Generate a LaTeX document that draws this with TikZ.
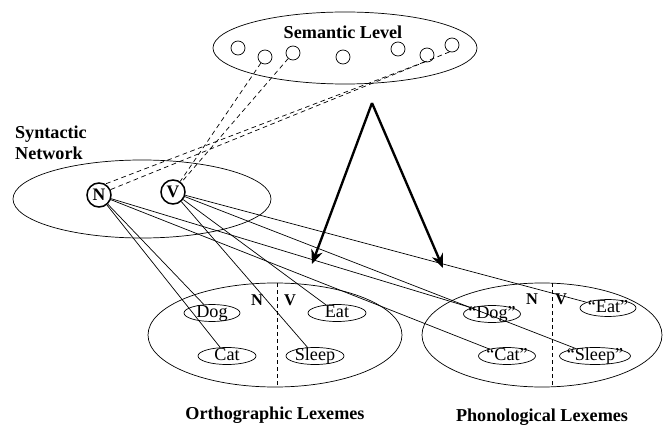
\documentclass[tikz,border=0pt]{standalone}
\usepackage{fontspec}
\setmainfont{Liberation Serif}
\usetikzlibrary{shapes.geometric, arrows.meta, positioning}
\newcommand\lexword[1]{\makebox[0pt]{#1}}

\begin{document}
\begin{tikzpicture}[x=0.03cm, y=-0.03cm,
    layer/.style={ellipse, draw, line width=0.6pt, inner sep=0pt},
    sem/.style={circle, draw, line width=0.6pt, minimum size=0.42cm, inner sep=0pt},
    synnode/.style={circle, draw, line width=1.3pt, minimum size=0.72cm, inner sep=0pt, font=\fontsize{15}{17}\selectfont\bfseries},
    word/.style={ellipse, draw, line width=0.6pt, inner sep=0pt, minimum height=0.51cm, text height=0.3cm, text depth=0.05cm, font=\fontsize{15.5}{17}\selectfont},
    heading/.style={font=\fontsize{15.5}{17.5}\selectfont\bfseries},
    tag/.style={font=\fontsize{14}{16}\selectfont\bfseries},
    link/.style={draw, line width=0.6pt},
    sense/.style={draw, line width=0.6pt, dash pattern=on 4pt off 3pt},
    line/.style={draw, -{Stealth[length=12pt,width=10pt]}, line width=2pt}
    ]
    \useasboundingbox (0,0) rectangle (663,426);

    % levels
    \node[layer, minimum width=7.92cm, minimum height=2.16cm] (semantic) at (345,48) {};
    \node[layer, minimum width=7.74cm, minimum height=2.34cm] (syntactic) at (142,199) {};
    \node[layer, minimum width=7.62cm, minimum height=3.12cm] (orth) at (275,335) {};
    \node[layer, minimum width=7.2cm, minimum height=3.12cm] (phon) at (542,335) {};

    % labels
    \node[heading] (semlabel) at (343,32) {Semantic Level};
    \node[heading, anchor=west, align=left] (synlabel) at (11,143) {Syntactic\\Network};
    \node[heading, below=0.45cm of orth] (orthlabel) {Orthographic Lexemes};
    \node[heading, below=0.52cm of phon] (phonlabel) {Phonological Lexemes};

    % semantic units
    \node[sem] (s1) at (238,48) {};
    \node[sem] (s2) at (265,57) {};
    \node[sem] (s3) at (293,53) {};
    \node[sem] (s4) at (343,57) {};
    \node[sem] (s5) at (398,49) {};
    \node[sem] (s6) at (427,55) {};
    \node[sem] (s7) at (452,45) {};

    % syntactic nodes
    \node[synnode] (N) at (99,195) {N};
    \node[synnode] (V) at (173,192) {V};

    % orthographic lexemes
    \draw[dashed, line width=0.6pt] (277,283) -- (277,387);
    \node[tag] (orthN) at (257,300) {N};
    \node[tag] (orthV) at (290,300) {V};
    \node[word, minimum width=1.68cm] (odog) at (212,313) {\lexword{Dog}};
    \node[word, minimum width=1.74cm] (ocat) at (227,356) {\lexword{Cat}};
    \node[word, minimum width=1.74cm] (oeat) at (337,313) {\lexword{Eat}};
    \node[word, minimum width=1.74cm] (osleep) at (315,356) {\lexword{Sleep}};

    % phonological lexemes
    \draw[dashed, line width=0.6pt] (552,283) -- (552,387);
    \node[tag] (phonN) at (532,299) {N};
    \node[tag] (phonV) at (561,299) {V};
    \node[word, minimum width=1.71cm] (pdog) at (492,314) {\lexword{“Dog”}};
    \node[word, minimum width=1.71cm] (pcat) at (507,356) {\lexword{“Cat”}};
    \node[word, minimum width=1.68cm] (peat) at (608,308) {\lexword{“Eat”}};
    \node[word, minimum width=2.13cm] (psleep) at (595,356) {\lexword{“Sleep”}};

    % dashed lines to the semantic level
    \path[sense] (s2) -- (V);
    \path[sense] (s3) -- (V);
    \path[sense] (s6.250) -- (N.60);
    \path[sense] (s7.250) -- (N.25);

    % lines to the lexemes
    \path[link] (N) -- (odog);
    \path[link] (N) -- (ocat);
    \path[link] (N) -- (pdog);
    \path[link] (N) -- (pcat);
    \path[link] (V) -- (oeat);
    \path[link] (V) -- (osleep);
    \path[link] (V) -- (peat);
    \path[link] (V) -- (psleep);

    % arrows
    \coordinate (apex) at (372,103);
    \coordinate (orthtip) at (312,264);
    \coordinate (phontip) at (443,268);
    \path[line] (apex) -- (orthtip);
    \path[line] (apex) -- (phontip);

\end{tikzpicture}
\end{document}
